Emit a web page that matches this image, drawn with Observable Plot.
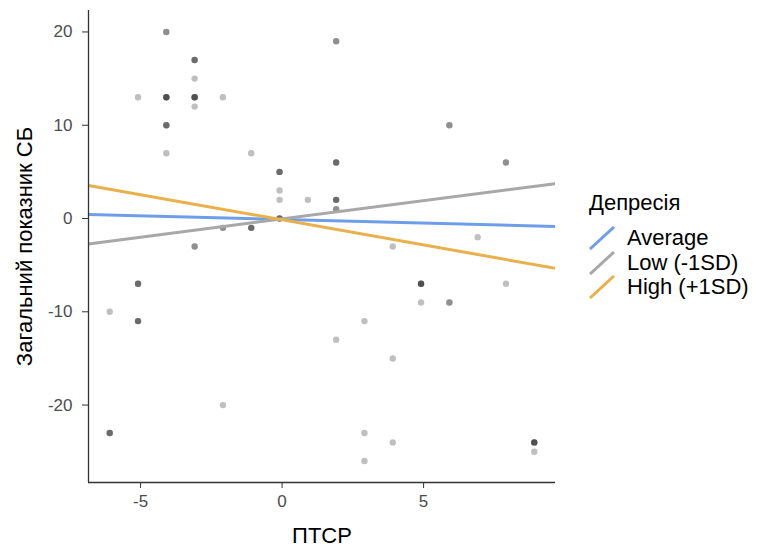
<!DOCTYPE html>
<html>
<head>
<meta charset="utf-8">
<script src="https://cdn.jsdelivr.net/npm/d3@7"></script>
<script src="https://cdn.jsdelivr.net/npm/@observablehq/plot@0.6"></script>
<style>
  html, body { margin: 0; padding: 0; background: #fff; }
  #chart { position: relative; width: 757px; height: 547px; font-family: "Liberation Sans", Arial, sans-serif; }
  #legend { position: absolute; left: 589px; top: 188px; color: #000; font-size: 22px; }
  #legend .title { height: 30px; line-height: 30px; margin-bottom: 8px; }
  #legend .row { display: flex; align-items: center; height: 24.5px; }
  #legend .row svg { display: block; margin-right: 12px; }
  #legend .row span { line-height: 24px; }
</style>
</head>
<body>
<div id="chart"></div>
<script>
// Centred PTSD score (ПТСР) and total SB score for each respondent
const ptsd = [
  -4.09, -4.09,
  -3.09, -3.09, -3.09,
  -3.09,
  -5.09,
  -4.09, -4.09, -4.09, -4.09,
  -3.09, -3.09, -3.09, -3.09,
  -2.09,
  -3.09,
  -4.09, -4.09, -4.09,
  -4.09,
  -1.09,
  -0.09, -0.09, -0.09,
  -0.09,
  -0.09,
  0.91,
  -0.09, -0.09, -0.09,
  -2.09, -2.09,
  -1.09, -1.09, -1.09,
  -3.09, -3.09,
  1.91, 1.91,
  5.91, 5.91,
  1.91, 1.91, 1.91,
  7.91, 7.91,
  1.91, 1.91, 1.91,
  1.91, 1.91,
  6.91,
  3.91,
  -5.09, -5.09, -5.09,
  -6.09,
  -5.09, -5.09, -5.09,
  -2.09,
  -6.09, -6.09, -6.09,
  4.91, 4.91, 4.91, 4.91,
  7.91,
  4.91,
  5.91, 5.91,
  2.91,
  1.91,
  3.91,
  2.91,
  3.91,
  8.91, 8.91, 8.91, 8.91,
  8.91,
  2.91
];
const sb = [
  20, 20,
  17, 17, 17,
  15,
  13,
  13, 13, 13, 13,
  13, 13, 13, 13,
  13,
  12,
  10, 10, 10,
  7,
  7,
  5, 5, 5,
  3,
  2,
  2,
  0, 0, 0,
  -1, -1,
  -1, -1, -1,
  -3, -3,
  19, 19,
  10, 10,
  6, 6, 6,
  6, 6,
  2, 2, 2,
  1, 1,
  -2,
  -3,
  -7, -7, -7,
  -10,
  -11, -11, -11,
  -20,
  -23, -23, -23,
  -7, -7, -7, -7,
  -7,
  -9,
  -9, -9,
  -11,
  -13,
  -15,
  -23,
  -24,
  -24, -24, -24, -24,
  -25,
  -26
];

// Simple slopes of SB on PTSD at three levels of depression (line ends at the panel edges)
const xDomain = [-6.84, 9.66];
const yDomain = [-28.3, 22.3];
const slopeLevels = ["Average", "Low (-1SD)", "High (+1SD)"];
const slopeColors = ["#6f9ee8", "#a8a8a8", "#e9b04b"];
const slopeStartY = [0.43, -2.72, 3.54];
const slopeEndY = [-0.86, 3.73, -5.34];

const xTicks = [-5, 0, 5];
const yTicks = [-20, -10, 0, 10, 20];

const points = ptsd.map((x, i) => ({x, y: sb[i]}));
const slopes = slopeLevels.flatMap((level, i) => [
  {level, x: xDomain[0], y: slopeStartY[i]},
  {level, x: xDomain[1], y: slopeEndY[i]}
]);

const font = '"Liberation Sans", Arial, sans-serif';

const plot = Plot.plot({
  width: 757,
  height: 547,
  marginLeft: 88,
  marginRight: 202,
  marginTop: 10,
  marginBottom: 65,
  style: {fontFamily: font, background: "#fff"},
  x: {domain: xDomain},
  y: {domain: yDomain},
  color: {domain: slopeLevels, range: slopeColors},
  marks: [
    Plot.dot(points, {x: "x", y: "y", r: 3.2, fill: "#000", fillOpacity: 0.25, stroke: "none"}),
    Plot.line(slopes, {x: "x", y: "y", z: "level", stroke: "level", strokeWidth: 3, clip: true}),
    Plot.ruleX([xDomain[0]], {stroke: "#333", strokeWidth: 1.3}),
    Plot.ruleY([yDomain[0]], {stroke: "#333", strokeWidth: 1.3}),
    Plot.axisX({ticks: xTicks, tickFormat: d => `${d}`, tickSize: 6, tickPadding: 6, fontSize: 17, color: "#4d4d4d", stroke: "#333", label: null}),
    Plot.axisY({ticks: yTicks, tickFormat: d => `${d}`, tickSize: 6, tickPadding: 10, fontSize: 17, color: "#4d4d4d", stroke: "#333", label: null}),
    Plot.axisX({ticks: [], tickSize: 0, label: "ПТСР", labelAnchor: "center", labelArrow: false, labelOffset: 60, fontSize: 22, color: "#000"}),
    Plot.axisY({ticks: [], tickSize: 0, label: "Загальний показник СБ", labelAnchor: "center", labelArrow: false, labelOffset: 72, fontSize: 22, color: "#000"})
  ]
});

const chart = document.getElementById("chart");
chart.appendChild(plot);

// Legend for the depression levels, drawn in the right margin
const legend = document.createElement("div");
legend.id = "legend";
const title = document.createElement("div");
title.className = "title";
title.textContent = "Депресія";
legend.appendChild(title);
slopeLevels.forEach((level, i) => {
  const row = document.createElement("div");
  row.className = "row";
  row.innerHTML = `<svg width="26" height="24"><line x1="1" y1="23" x2="25" y2="1" stroke="${slopeColors[i]}" stroke-width="3"/></svg><span>${level}</span>`;
  legend.appendChild(row);
});
chart.appendChild(legend);
</script>
</body>
</html>
